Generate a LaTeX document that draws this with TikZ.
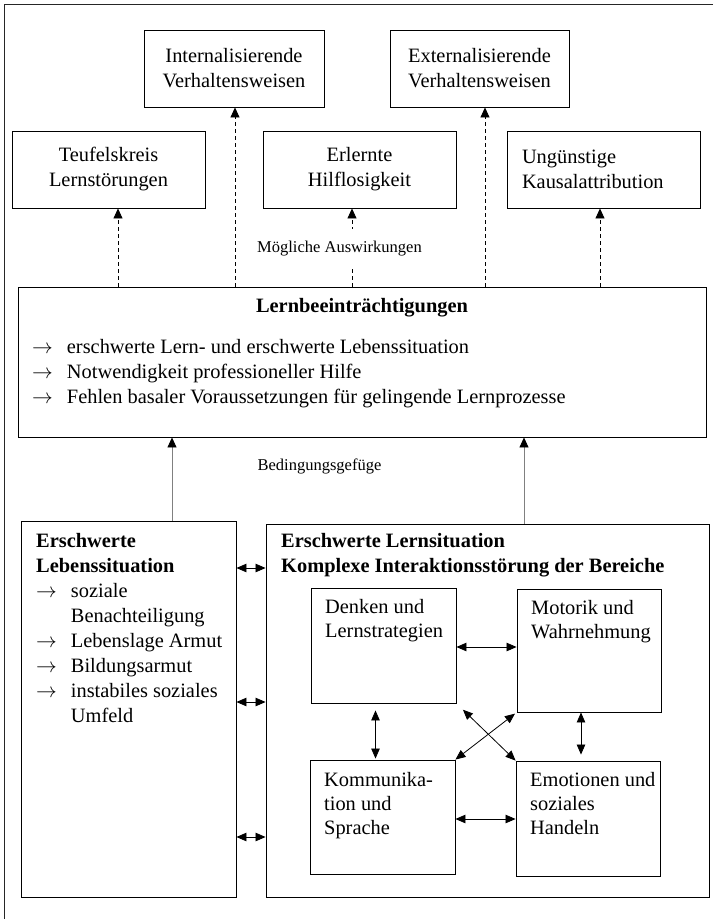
\documentclass[tikz,border=0pt]{standalone}
\usepackage{fontspec}
\setmainfont{Liberation Serif}
\usepackage{tikz}
\usetikzlibrary{arrows.meta, positioning}
\newcommand{\bodyfont}{\fontsize{20.4}{25}\selectfont}
\newcommand{\boxfont}{\fontsize{20.4}{24}\selectfont}
\newcommand{\notefont}{\fontsize{16.5}{20}\selectfont}
\newcommand{\pfeil}{$\rightarrow$}
\newcommand{\itemrows}[1]{\begin{tabular}[t]{@{}l@{\hspace{14pt}}l@{}}#1\end{tabular}}
\newcommand{\plainrows}[1]{\begin{tabular}[t]{@{}l@{}}#1\end{tabular}}
\tikzset{
	frame/.style={draw=black!85, line width=1pt},
	box/.style={rectangle, draw=black, line width=0.9pt, inner sep=0pt},
	effect/.style={box, minimum height=77, font=\bodyfont, align=center},
	area/.style={box, minimum width=145, minimum height=115},
	txt/.style={inner sep=0pt, anchor=base west, font=\bodyfont},
	boxtxt/.style={inner sep=0pt, anchor=base west, font=\boxfont},
	note/.style={font=\notefont, inner sep=2pt},
	arrow/.style={line width=0.8pt, -{Triangle[length=10pt,width=9pt]}},
	dasharrow/.style={arrow, dash pattern=on 4pt off 3pt},
	uparrow/.style={arrow, draw=gray, -{Triangle[length=10pt,width=9pt,color=black]}},
	dblarrow/.style={line width=0.8pt, {Triangle[length=10pt,width=8.5pt]}-{Triangle[length=10pt,width=8.5pt]}}
}

\begin{document}
\begin{tikzpicture}[x=1pt, y=-1pt]
	\useasboundingbox (0,0) rectangle (713,919);
	
	% Rahmen
	\draw [frame] (713,4) -- (4,4) -- (4,919);
	
	% Moegliche Auswirkungen
	\node (intern) [effect, minimum width=180] at (234,68.5) {Internalisierende\\Verhaltensweisen};
	\node (extern) [effect, minimum width=179] at (479.5,68.5) {Externalisierende\\Verhaltensweisen};
	\node (teufel) [effect, minimum width=193] at (108.5,169.5) {Teufelskreis\\Lernstörungen};
	\node (hilflos) [effect, minimum width=193] at (359.5,169.5) {Erlernte\\Hilflosigkeit};
	\node (kausal) [effect, align=left, text width=163, inner xsep=15] at (603.5,169.5) {Ungünstige\\Kausalattribution};
	
	% Lernbeeintraechtigungen
	\node (main) [box, minimum width=688, minimum height=150] at (362,362) {};
	\node (maintitle) [inner sep=0pt, anchor=base, font=\bodyfont\bfseries] at (362,312) {Lernbeeinträchtigungen};
	\node (mainlist) [txt] at (32,353) {\itemrows{\pfeil & erschwerte Lern- und erschwerte Lebenssituation\\
		\pfeil & Notwendigkeit professioneller Hilfe\\
		\pfeil & Fehlen basaler Voraussetzungen für gelingende Lernprozesse}};
	
	% Bedingungen
	\node (leben) [box, minimum width=215, minimum height=376] at (128.5,709) {};
	\node (lebentxt) [txt] at (36,547) {\itemrows{\multicolumn{2}{@{}l@{}}{\textbf{Erschwerte}}\\
		\multicolumn{2}{@{}l@{}}{\textbf{Lebenssituation}}\\
		\pfeil & soziale\\
		& Benachteiligung\\
		\pfeil & Lebenslage Armut\\
		\pfeil & Bildungsarmut\\
		\pfeil & instabiles soziales\\
		& Umfeld}};
	\node (lernsit) [box, minimum width=443, minimum height=373] at (487.5,710.5) {};
	\node (lernsittxt) [txt, font=\bodyfont\bfseries] at (281,547) {\plainrows{Erschwerte Lernsituation\\Komplexe Interaktionsstörung der Bereiche}};
	
	% Bereiche
	\node (denken) [area] at (383.5,645.5) {};
	\node (motorik) [area, minimum width=144, minimum height=123] at (589,650.5) {};
	\node (kommun) [area, minimum height=114] at (382.5,817) {};
	\node (emotion) [area, minimum width=144] at (588,818.5) {};
	\node (denkentxt) [boxtxt] at (325,613) {\plainrows{Denken und\\Lernstrategien}};
	\node (motoriktxt) [boxtxt] at (531,614) {\plainrows{Motorik und\\Wahrnehmung}};
	\node (kommuntxt) [boxtxt] at (324,786) {\plainrows{Kommunika-\\tion und\\Sprache}};
	\node (emotiontxt) [boxtxt] at (530,786) {\plainrows{Emotionen und\\soziales\\Handeln}};
	
	% Pfeile
	\draw [dasharrow] ([xshift=9.5]teufel.south |- main.north) -- ([xshift=9.5]teufel.south);
	\draw [dasharrow] ([xshift=1]intern.south |- main.north) -- ([xshift=1]intern.south);
	\draw [dasharrow] ([xshift=-7.5]hilflos.south |- main.north) -- ([xshift=-7.5]hilflos.south);
	\draw [dasharrow] ([xshift=5.5]extern.south |- main.north) -- ([xshift=5.5]extern.south);
	\draw [dasharrow] ([xshift=-3.5]kausal.south |- main.north) -- ([xshift=-3.5]kausal.south);
	\node (wirkung) [note, fill=white, minimum height=40] at (339.5,249) {Mögliche Auswirkungen};
	
	\draw [uparrow] ([xshift=43.5]leben.north) -- ([xshift=43.5]leben.north |- main.south);
	\draw [uparrow] ([xshift=36.5]lernsit.north) -- ([xshift=36.5]lernsit.north |- main.south);
	\node (bedingung) [note] at (319.5,466) {Bedingungsgefüge};
	
	\draw [dblarrow] ([yshift=141]leben.east) -- ([yshift=141]leben.east -| lernsit.west);
	\draw [dblarrow] ([yshift=7]leben.east) -- ([yshift=7]leben.east -| lernsit.west);
	\draw [dblarrow] ([yshift=-128]leben.east) -- ([yshift=-128]leben.east -| lernsit.west);
	
	\draw [dblarrow] ([yshift=-1.5]denken.east) -- ([yshift=-1.5]denken.east -| motorik.west);
	\draw [dblarrow] ([yshift=-2]kommun.east) -- ([yshift=-2]kommun.east -| emotion.west);
	\draw [dblarrow, shorten <=7pt, shorten >=1pt] ([xshift=-8]denken.south) -- ([xshift=-8]denken.south |- kommun.north);
	\draw [dblarrow, shorten >=6pt] ([xshift=-8]motorik.south) -- ([xshift=-8]motorik.south |- emotion.north);
	\draw [dblarrow, shorten <=9pt] (denken.south east) -- (emotion.north west);
	\draw [dblarrow, shorten >=2pt] (kommun.north east) -- (motorik.south west);
	
\end{tikzpicture}
\end{document}
